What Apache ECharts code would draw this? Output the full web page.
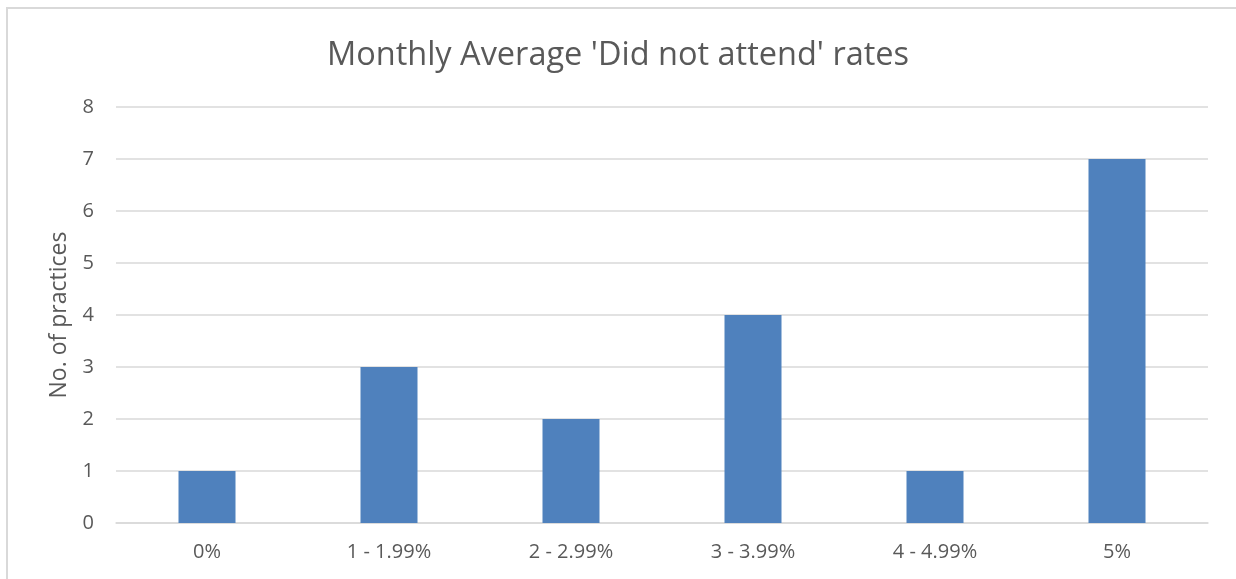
<!DOCTYPE html>
<html>
<head>
<meta charset="utf-8">
<script src="https://cdn.jsdelivr.net/npm/echarts@6/dist/echarts.min.js"></script>
<style>
html,body{margin:0;padding:0;background:#fff;}
#main{width:1236px;height:579px;}
</style>
</head>
<body>
<div id="main"></div>
<script>
// data
var categories = ['0%', '1 - 1.99%', '2 - 2.99%', '3 - 3.99%', '4 - 4.99%', '5%'];
var practices = [1, 3, 2, 4, 1, 7];
var yTicks = [0, 1, 2, 3, 4, 5, 6, 7, 8];

var font = '"Open Sans", sans-serif';
var txt = '#595959';
var chart = echarts.init(document.getElementById('main'));
var option = {
    animation: false,
    backgroundColor: '#fff',
    title: {
        text: "Monthly Average 'Did not attend' rates",
        left: 'center',
        top: 34,
        textStyle: {color: txt, fontSize: 32.5, fontWeight: 'normal', fontFamily: font}
    },
    graphic: [{
        type: 'rect',
        shape: {x: 7, y: 8, width: 1260, height: 620},
        style: {fill: 'none', stroke: '#d9d9d9', lineWidth: 2},
        silent: true
    }],
    grid: {left: 116, right: 28, top: 107, bottom: 56},
    xAxis: {
        type: 'category',
        data: categories,
        axisLine: {lineStyle: {color: '#d9d9d9', width: 1.5}},
        axisTick: {show: false},
        axisLabel: {color: txt, fontSize: 20, fontFamily: font, margin: 19}
    },
    yAxis: {
        type: 'value',
        min: yTicks[0],
        max: yTicks[yTicks.length - 1],
        interval: 1,
        name: 'No. of practices',
        nameLocation: 'middle',
        nameGap: 45,
        nameTextStyle: {color: txt, fontSize: 23, fontFamily: font},
        axisLine: {show: false},
        axisTick: {show: false},
        axisLabel: {color: txt, fontSize: 20, fontFamily: font, margin: 22},
        splitLine: {lineStyle: {color: '#d9d9d9', width: 1.5}}
    },
    series: [{
        type: 'bar',
        data: practices,
        barWidth: 57,
        itemStyle: {color: '#4f81bd'}
    }]
};
chart.setOption(option);
window.addEventListener('resize', function () {
    chart.resize();
});
</script>
</body>
</html>
